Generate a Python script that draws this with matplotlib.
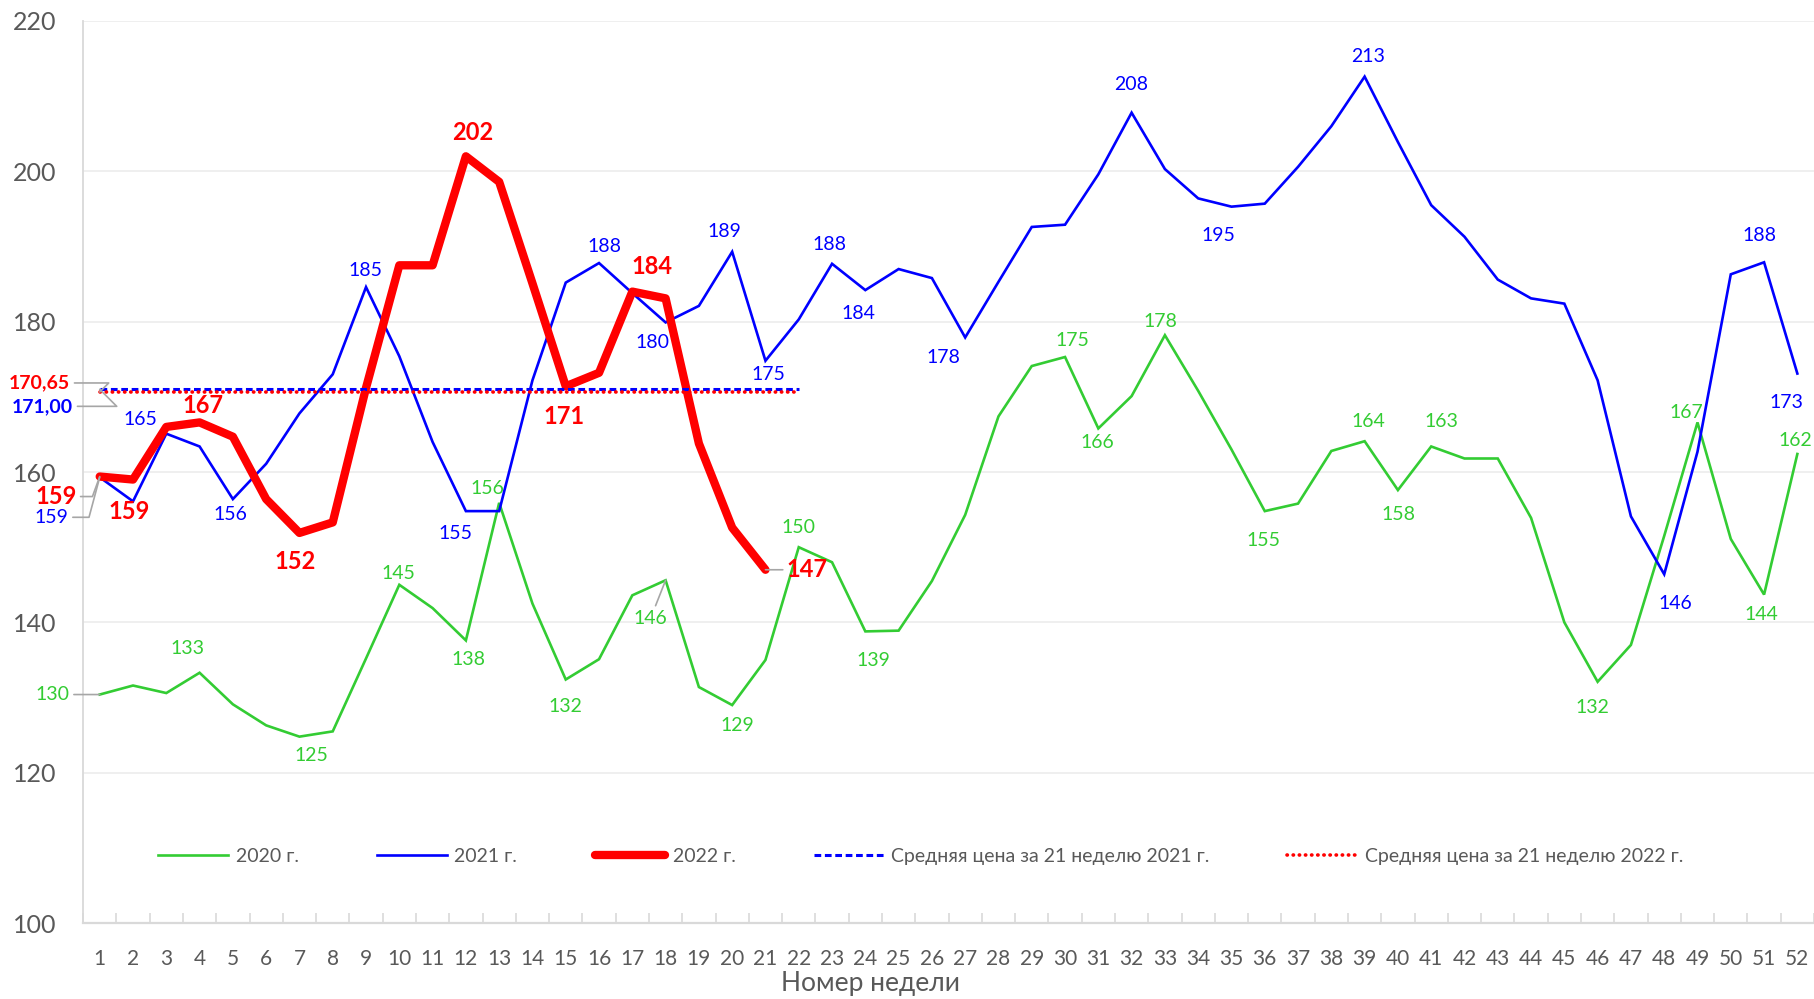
import matplotlib
matplotlib.use("Agg")
import matplotlib.pyplot as plt
import numpy as np

plt.rcParams['font.family'] = ['Lato', 'Open Sans', 'DejaVu Sans']

weeks = np.arange(1, 53)

y2020 = [130.4, 131.6, 130.6, 133.3, 129.1, 126.3, 124.8, 125.5, 135.2, 145.0,
         141.9, 137.6, 155.9, 142.5, 132.4, 135.1, 143.6, 145.6, 131.4, 129.0,
         135.0, 150.0, 148.0, 138.8, 138.9, 145.5, 154.3, 167.4, 174.1, 175.3,
         165.8, 170.1, 178.2, 170.8, 163.0, 154.8, 155.8, 162.8, 164.1, 157.6,
         163.4, 161.8, 161.8, 153.9, 140.0, 132.1, 137.0, 151.5, 166.6, 151.1,
         143.7, 162.4]
y2021 = [159.3, 156.1, 165.1, 163.4, 156.4, 161.1, 167.8, 173.0, 184.6, 175.4,
         164.0, 154.8, 154.8, 172.2, 185.2, 187.8, 183.8, 179.9, 182.1, 189.3,
         174.8, 180.3, 187.7, 184.2, 187.0, 185.8, 177.9, 185.3, 192.6, 192.9,
         199.6, 207.8, 200.3, 196.4, 195.3, 195.7, 200.6, 206.0, 212.6, 203.9,
         195.5, 191.3, 185.6, 183.1, 182.4, 172.2, 154.1, 146.4, 162.7, 186.3,
         187.9, 173.1]
y2022 = [159.4, 159.0, 166.0, 166.6, 164.7, 156.4, 151.9, 153.3, 171.2, 187.5,
         187.5, 202.0, 198.6, 185.1, 171.4, 173.2, 184.0, 183.1, 163.8, 152.6,
         147.0]

avg2021 = 171.00
avg2022 = 170.65
avg_weeks = [1, 22]

labels = ["2020 г.", "2021 г.", "2022 г.",
          "Средняя цена за 21 неделю 2021 г.", "Средняя цена за 21 неделю 2022 г."]

GREEN = '#33CC33'
BLUE = '#0000FF'
RED = '#FF0000'
GREY = '#595959'

# value labels: (week, dx px, dy px, leader angle or None)
lab2020 = [(1, -47, 0, 0), (4, -12, 24, None), (7, 12, -19, None), (10, -1, 11, None),
           (12, 3, -19, None), (13, -12, 14, None), (15, 0, -27, None), (18, -15, -38, 0),
           (20, 5, -20, None), (22, 0, 20, None), (24, 8, -29, None), (30, 7, 17, None),
           (31, -1, -14, None), (33, -4, 14, None), (36, -1, -29, None), (39, 4, 20, None),
           (40, 1, -24, None), (41, 10, 25, None), (46, -5, -26, None), (49, -11, 10, None),
           (51, -3, -20, None), (52, -2, 13, None)]
lab2021 = [(1, -48, -40, 75), (3, -26, 14, None), (5, -2, -15, None), (9, -1, 17, None),
           (12, -10, -22, None), (16, 5, 17, None), (18, -13, -20, None), (20, -8, 20, None),
           (21, 3, -14, None), (23, -3, 19, None), (24, -7, -23, None), (27, -22, -20, None),
           (32, 0, 28, None), (35, -13, -29, None), (39, 3, 20, None), (48, 11, -29, None),
           (51, -5, 27, None), (52, -11, -29, None)]
lab2022 = [(1, -44, -20, 70), (2, -4, -32, None), (4, 3, 17, None), (7, -4, -29, None),
           (12, 7, 24, None), (15, -2, -30, None), (17, 20, 25, None), (21, 42, 0, 0)]

fig = plt.figure(figsize=(18.14, 9.99), dpi=100)
ax = fig.add_axes([0.0458, 0.076, 0.9542, 0.903])

ax.plot(weeks, y2020, color=GREEN, lw=1.9, label=labels[0], solid_joinstyle='miter')
ax.plot(weeks, y2021, color=BLUE, lw=1.9, label=labels[1], solid_joinstyle='miter')
ax.plot(weeks[:len(y2022)], y2022, color=RED, lw=6, label=labels[2],
        solid_capstyle='round', solid_joinstyle='round')
ax.plot(avg_weeks, [avg2021] * 2, color=BLUE, lw=2.2, ls=(0, (2.2, 1.2)), label=labels[3])
ax.plot(avg_weeks, [avg2022] * 2, color=RED, lw=2.6, ls=(0, (0.1, 1.6)),
        dash_capstyle='round', label=labels[4])


def put(x, y, dx, dy, color, bold, size, leader, text=None):
    if text is None:
        text = f"{y:.0f}"
    kw = {}
    if leader is not None:
        if leader == 0:
            cs = "arc3"
        else:
            cs = f"angle,angleA=0,angleB={leader},rad=0"
        kw['arrowprops'] = dict(arrowstyle='-', color='#a6a6a6', lw=1.2,
                                shrinkA=1, shrinkB=0, connectionstyle=cs)
    ax.annotate(text, (x, y), xytext=(dx, dy), textcoords='offset pixels',
                ha='center', va='center', color=color, fontsize=size,
                fontweight='bold' if bold else 'normal', annotation_clip=False, **kw)


for w, dx, dy, ld in lab2020:
    put(w, y2020[w - 1], dx, dy, GREEN, False, 14, ld)
for w, dx, dy, ld in lab2021:
    put(w, y2021[w - 1], dx, dy, BLUE, False, 14, ld)
for w, dx, dy, ld in lab2022:
    put(w, y2022[w - 1], dx, dy, RED, True, 17, ld)

put(avg_weeks[0], avg2022, -60, 9, RED, True, 14, 45, f"{avg2022:.2f}".replace('.', ','))
put(avg_weeks[0], avg2021, -57, -17, BLUE, True, 14, -45, f"{avg2021:.2f}".replace('.', ','))

ax.set_xlim(0.5, 52.5)
ax.set_ylim(100, 220)
ax.set_yticks(np.arange(100, 221, 20))
ax.set_xticks(weeks)
ax.set_xticks(np.arange(0.5, 53, 1), minor=True)
ax.tick_params(axis='x', which='major', length=0, pad=19, labelsize=15, labelcolor=GREY)
ax.tick_params(axis='x', which='minor', direction='in', length=7, width=1.2, color='#d9d9d9')
ax.tick_params(axis='y', length=0, pad=19, labelsize=18, labelcolor=GREY)
ax.grid(axis='y', color='#ececec', lw=1.2)
ax.set_axisbelow(True)
for s in ['top', 'right']:
    ax.spines[s].set_visible(False)
ax.spines['left'].set_color('#d9d9d9')
ax.spines['left'].set_linewidth(1.3)
ax.spines['bottom'].set_color('#d9d9d9')
ax.spines['bottom'].set_linewidth(1.6)

ax.set_xlabel("Номер недели", fontsize=19, color=GREY)
ax.xaxis.set_label_coords(0.455, -0.053)

ax.legend(loc='center', bbox_to_anchor=(0.484, 0.074), ncol=5, frameon=False,
          fontsize=14, labelcolor=GREY, handlelength=3.6, handletextpad=0.4,
          columnspacing=4.0)

fig.savefig("out.png", dpi=100)
